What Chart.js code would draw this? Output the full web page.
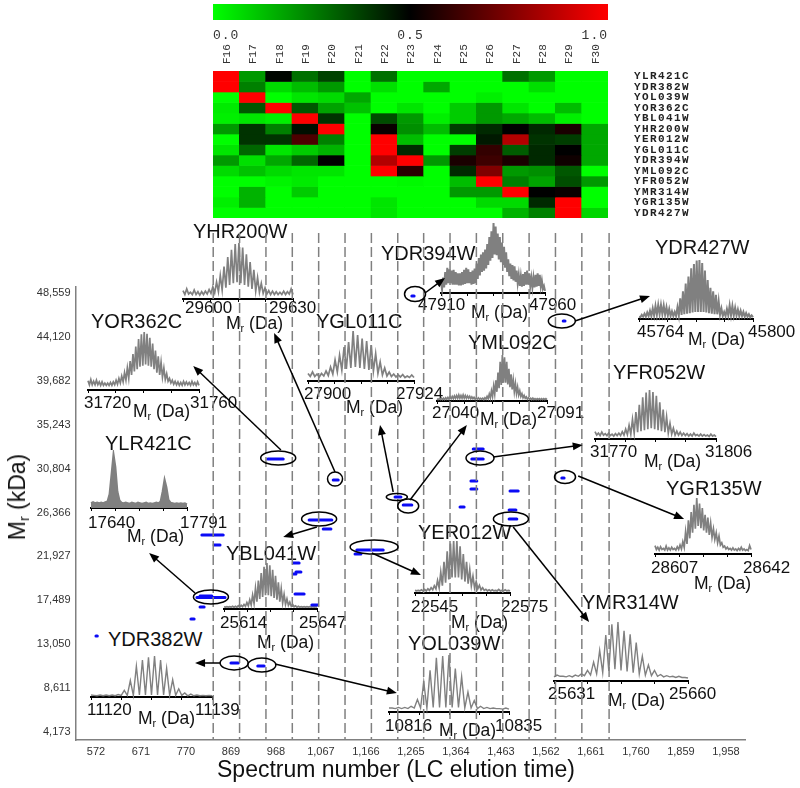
<!DOCTYPE html>
<html>
<head>
<meta charset="utf-8">
<title>LC elution map</title>
<script src="https://cdn.jsdelivr.net/npm/chart.js@4"></script>
<style>
    html, body { margin: 0; padding: 0; background: #fff; }
    #page { position: relative; width: 800px; height: 788px; overflow: hidden; }
    #page canvas { position: absolute; }
    .txt { position: absolute; white-space: nowrap; font-family: "Liberation Sans", Arial, sans-serif; color: #111; line-height: 24px; }
    .txt sub { font-size: 0.62em; line-height: 0; vertical-align: -0.3em; }
</style>
</head>
<body>
<div id="page"></div>
<script>
// ---- heat map ----
const fractions = ["F16", "F17", "F18", "F19", "F20", "F21", "F22", "F23", "F24", "F25", "F26", "F27", "F28", "F29", "F30"];
const proteins = ["YLR421C", "YDR382W", "YOL039W", "YOR362C", "YBL041W", "YHR200W", "YER012W", "YGL011C", "YDR394W", "YML092C", "YFR052W", "YMR314W", "YGR135W", "YDR427W"];
const heatYLR421C = [1, .2, .49, .28, .37, 0, .28, 0, 0, 0, 0, .28, .2, 0, 0];
const heatYDR382W = [1, .25, .07, .13, .2, 0, .06, 0, .17, 0, 0, 0, .06, 0, 0];
const heatYOL039W = [0, 1, 0, .05, .07, .17, 0, 0, 0, 0, .03, 0, 0, 0, 0];
const heatYOR362C = [.04, .33, 1, .33, .18, .12, 0, .05, 0, .1, .2, .05, 0, .13, 0];
const heatYBL041W = [.03, .05, .03, 1, .4, 0, .35, .2, .03, .1, .2, .17, .13, .03, 0];
const heatYHR200W = [.2, .4, .25, .47, 1, 0, .52, .22, .13, .38, .42, .5, .42, .55, .17];
const heatYER012W = [0, .4, .4, .65, .25, 0, 1, .13, 0, 0, .45, .85, .4, .38, .17];
const heatYGL011C = [.05, .3, .05, .1, .15, 0, 1, .42, 0, .38, .6, .32, .42, .5, .17];
const heatYDR394W = [.2, .06, .17, .3, .5, 0, .85, 1, .2, .55, .62, .55, .42, .53, .17];
const heatYML092C = [.07, .12, .07, .05, .05, 0, 1, .58, 0, .42, .75, .2, .22, .33, 0];
const heatYFR052W = [0, 0, .02, .04, 0, 0, 0, .01, 0, .13, 1, .25, .18, .35, .2];
const heatYMR314W = [0, .15, 0, .1, 0, 0, 0, 0, 0, .2, .2, 1, .5, .52, 0];
const heatYGR135W = [.03, .15, 0, 0, 0, 0, .05, 0, 0, 0, .07, .07, .42, 1, 0];
const heatYDR427W = [0, 0, 0, 0, 0, 0, .05, 0, 0, 0, 0, .15, .25, 1, .08];
const heatRows = [heatYLR421C, heatYDR382W, heatYOL039W, heatYOR362C, heatYBL041W, heatYHR200W, heatYER012W, heatYGL011C, heatYDR394W, heatYML092C, heatYFR052W, heatYMR314W, heatYGR135W, heatYDR427W];
const colorbarTicks = [0, 0.5, 1];

// ---- main map ----
const xTicks = [572, 671, 770, 869, 968, 1067, 1166, 1265, 1364, 1463, 1562, 1661, 1760, 1859, 1958];
const yTicks = [4173, 8611, 13050, 17489, 21927, 26366, 30804, 35243, 39682, 44120, 48559];
// limites de las fracciones, en numero de espectro
const fractionEdges = [830, 888, 946, 1004, 1062, 1120, 1178, 1236, 1293, 1351, 1409, 1467, 1525, 1583, 1641, 1701];
// cada feature azul: desde, hasta, masa
const featureStart = [572, 781, 801, 794, 801, 805, 832, 869, 928, 950, 1094, 1006, 1006, 1012, 1010, 1047, 1041, 1072, 1146, 1142, 1230, 1248, 1267, 1600, 1402, 1399, 1397, 1397, 1483, 1373, 1481, 1481, 1597];
const featureEnd = [575, 788, 810, 856, 827, 852, 845, 885, 942, 984, 1105, 1019, 1012, 1023, 1030, 1060, 1091, 1089, 1204, 1155, 1243, 1267, 1272, 1604, 1424, 1424, 1410, 1410, 1501, 1382, 1496, 1498, 1602];
const featureMass = [13878, 15597, 16810, 17771, 17922, 24089, 23078, 11149, 10845, 31773, 29650, 21259, 20147, 20349, 18125, 17012, 25606, 24696, 22573, 22169, 27931, 27122, 48252, 45725, 32784, 31773, 29549, 28740, 28538, 26920, 26617, 25707, 29852];
// elipses y flechas que senalan cada espectro
const ringSpectrum = [973, 1098, 1234, 1259, 1274, 1597, 1417, 1604, 1485, 1063, 1184, 825, 876, 937];
const ringMass = [31874, 29751, 27931, 27021, 48455, 45725, 31874, 29953, 25707, 25707, 22875, 17821, 11149, 10946];
const arrowFromSpectrum = [979, 1098, 1226, 1263, 1296, 1626, 1446, 1633, 1490, 1058, 1179, 790, 845, 966];
const arrowFromMass = [32683, 30459, 28437, 27628, 48556, 45725, 31975, 30054, 24898, 24898, 22270, 18226, 11149, 11048];
const arrowToSpectrum = [786, 964, 1197, 1388, 1340, 1791, 1643, 1866, 1657, 984, 1287, 689, 790, 1234];
const arrowToMass = [41175, 44512, 35210, 35210, 50072, 48252, 33188, 25707, 15294, 23887, 20045, 22270, 11149, 8116];

// ---- espectros (pico, valle, pico, valle...) en % del maximo ----
const peaksYHR200W = [15, 18, 12, 16, 13, 13, 14, 17, 22, 30, 42, 58, 75, 88, 98, 100, 92, 80, 66, 52, 38, 28, 20, 15, 14, 13, 12, 14, 13, 18];
const valleysYHR200W = [8, 9, 8, 8, 7, 8, 9, 10, 11, 13, 16, 20, 25, 28, 30, 28, 25, 22, 18, 14, 12, 10, 9, 8, 8, 8, 8, 8, 9, 8];
const peaksYOR362C = [16, 18, 15, 17, 14, 14, 12, 12, 13, 14, 17, 20, 24, 30, 38, 50, 62, 75, 88, 96, 100, 97, 90, 80, 68, 58, 48, 38, 28, 20, 17, 15, 14, 13, 15, 14, 13, 15, 13, 14];
const valleysYOR362C = [9, 9, 9, 9, 8, 8, 8, 8, 8, 9, 10, 12, 14, 17, 20, 26, 32, 36, 40, 42, 44, 42, 40, 36, 30, 26, 22, 18, 15, 12, 10, 9, 8, 8, 9, 9, 8, 9, 8, 8];
const peaksYGL011C = [15, 18, 14, 15, 20, 28, 42, 52, 68, 78, 100, 92, 85, 80, 72, 55, 38, 26, 18, 14, 12, 13, 10, 12];
const valleysYGL011C = [9, 9, 8, 10, 11, 14, 18, 22, 24, 26, 28, 26, 24, 22, 20, 15, 12, 10, 9, 8, 8, 7, 7, 7];
const peaksYDR394W = [15, 22, 30, 36, 34, 32, 33, 30, 28, 28, 30, 33, 36, 34, 30, 32, 35, 42, 50, 55, 58, 62, 70, 80, 88, 100, 95, 85, 80, 72, 66, 58, 48, 42, 40, 38, 32, 26, 24, 27, 30, 32, 28, 22, 22, 26, 28, 26, 18, 10];
const valleysYDR394W = [5, 8, 12, 14, 14, 12, 12, 12, 11, 11, 12, 13, 14, 14, 12, 13, 14, 20, 25, 30, 32, 35, 40, 46, 50, 55, 54, 48, 44, 40, 36, 30, 24, 20, 18, 16, 14, 10, 9, 10, 12, 12, 10, 8, 8, 9, 10, 9, 6, 3];
const peaksYDR427W = [4, 7, 9, 11, 14, 18, 22, 24, 24, 23, 20, 17, 13, 12, 20, 35, 47, 60, 72, 86, 93, 99, 100, 95, 82, 66, 53, 47, 41, 30, 18, 12, 17, 23, 22, 19, 16, 14, 12, 10, 8, 6];
const valleysYDR427W = [3, 4, 4, 5, 5, 6, 7, 8, 8, 7, 6, 5, 5, 5, 6, 7, 8, 9, 10, 11, 12, 12, 12, 12, 11, 10, 9, 8, 8, 7, 5, 5, 6, 6, 6, 6, 5, 5, 4, 4, 3, 3];
const peaksYML092C = [5, 5, 6, 6, 7, 8, 9, 10, 11, 12, 13, 12, 13, 12, 11, 10, 9, 8, 7, 7, 6, 6, 7, 10, 15, 22, 32, 45, 62, 85, 100, 95, 85, 70, 58, 46, 38, 30, 22, 16, 12, 9, 7, 6, 6, 5, 5, 5, 5, 5, 5];
const valleysYML092C = [3, 3, 3, 3, 4, 4, 5, 5, 6, 6, 6, 6, 6, 6, 6, 5, 5, 4, 4, 4, 4, 3, 4, 5, 7, 10, 15, 20, 28, 35, 40, 40, 36, 30, 25, 20, 16, 13, 10, 7, 6, 4, 4, 3, 3, 3, 3, 3, 3, 3, 3];
const peaksYFR052W = [15, 12, 14, 11, 12, 10, 11, 12, 15, 20, 28, 40, 55, 70, 85, 95, 100, 96, 88, 75, 60, 45, 32, 22, 16, 14, 12, 11, 10, 12, 9, 10, 9, 8, 10, 8];
const valleysYFR052W = [8, 7, 8, 7, 7, 6, 7, 7, 8, 9, 10, 12, 14, 16, 18, 20, 22, 20, 18, 16, 14, 12, 10, 8, 8, 7, 7, 6, 6, 7, 6, 6, 6, 5, 6, 5];
const peaksYGR135W = [15, 12, 13, 10, 14, 11, 12, 10, 13, 16, 22, 40, 60, 75, 88, 100, 90, 82, 70, 65, 55, 45, 38, 32, 20, 14, 12, 10, 11, 9, 10, 12, 9, 8, 15];
const valleysYGR135W = [8, 7, 8, 7, 7, 7, 8, 7, 8, 9, 12, 18, 28, 38, 45, 50, 46, 42, 38, 34, 30, 26, 20, 16, 12, 9, 8, 7, 7, 6, 7, 7, 6, 6, 8];
const peaksYBL041W = [5, 5, 5, 6, 6, 7, 8, 10, 14, 20, 30, 45, 62, 78, 92, 100, 95, 85, 72, 58, 44, 32, 22, 15, 10, 7, 6, 5, 5, 5, 5, 5, 5];
const valleysYBL041W = [4, 4, 4, 4, 4, 4, 5, 6, 7, 9, 12, 16, 22, 26, 30, 30, 28, 24, 20, 16, 13, 10, 8, 6, 5, 4, 4, 4, 4, 4, 4, 4, 4];
const peaksYER012W = [5, 5, 6, 7, 8, 10, 14, 24, 40, 60, 80, 95, 100, 100, 90, 75, 60, 45, 32, 22, 15, 10, 7, 6, 6, 5, 7, 5, 6, 5];
const valleysYER012W = [4, 4, 4, 4, 5, 6, 8, 10, 14, 20, 26, 30, 30, 30, 26, 22, 18, 14, 10, 8, 6, 5, 4, 4, 4, 4, 4, 4, 4, 4];
// estos ya van leidos punto a punto
const traceYLR421C = [9, 11, 9, 10, 9, 10, 9, 11, 12, 25, 62, 100, 75, 30, 14, 10, 9, 10, 9, 8, 10, 9, 8, 10, 9, 8, 9, 10, 8, 9, 8, 9, 10, 9, 12, 30, 53, 38, 15, 10, 9, 8, 9, 8, 9, 8, 9, 7];
const traceYOL039W = [7, 7, 6, 8, 6, 8, 6, 10, 7, 22, 7, 53, 7, 73, 8, 95, 8, 98, 8, 100, 8, 76, 8, 62, 7, 35, 7, 20, 6, 10, 6, 8, 6, 7, 6, 6, 5, 7, 5];
const traceYDR382W = [5, 4, 3, 5, 3, 5, 3, 5, 3, 6, 4, 16, 4, 40, 4, 75, 5, 90, 5, 97, 5, 100, 5, 90, 5, 70, 4, 42, 4, 20, 4, 10, 3, 7, 3, 5, 3, 4, 3, 4, 3];
const traceYMR314W = [7, 10, 8, 8, 7, 9, 7, 10, 8, 12, 9, 18, 10, 32, 12, 52, 14, 78, 17, 96, 20, 100, 18, 85, 16, 79, 14, 65, 12, 42, 10, 27, 9, 18, 8, 11, 7, 9, 7, 8, 6, 8, 6, 6, 5];

function merge(peaks, valleys) {
    return peaks.flatMap((p, i) => [p, valleys[i]]);
}

// donde va cada recuadro en la pagina
const insets = [
    { name: "YHR200W", y: merge(peaksYHR200W, valleysYHR200W), from: 29600, to: 29630, box: [183, 293, 243, 299], title: [193, 231], low: 185, high: 269, massY: 308, mr: [226, 323] },
    { name: "YOR362C", y: merge(peaksYOR362C, valleysYOR362C), from: 31720, to: 31760, box: [88, 199, 332, 390], title: [91, 321], low: 84, high: 190, massY: 403, mr: [133, 411] },
    { name: "YGL011C", y: merge(peaksYGL011C, valleysYGL011C), from: 27900, to: 27924, box: [308, 414, 331, 381], title: [316, 321], low: 304, high: 396, massY: 394, mr: [346, 407] },
    { name: "YDR394W", y: merge(peaksYDR394W, valleysYDR394W), from: 47910, to: 47960, box: [441, 545, 223, 293], title: [381, 253], low: 418, high: 529, massY: 305, mr: [471, 312], width: 2 },
    { name: "YDR427W", y: merge(peaksYDR427W, valleysYDR427W), from: 45764, to: 45800, box: [639, 753, 260, 319], title: [655, 247], low: 637, high: 748, massY: 332, mr: [688, 339], width: 2 },
    { name: "YML092C", y: merge(peaksYML092C, valleysYML092C), from: 27040, to: 27091, box: [437, 547, 355, 401], title: [468, 342], low: 432, high: 537, massY: 413, mr: [480, 419] },
    { name: "YFR052W", y: merge(peaksYFR052W, valleysYFR052W), from: 31770, to: 31806, box: [595, 716, 390, 439], title: [613, 372], low: 590, high: 705, massY: 452, mr: [644, 461] },
    { name: "YLR421C", y: traceYLR421C, from: 17640, to: 17791, box: [91, 187, 453, 508], title: [105, 443], low: 88, high: 180, massY: 523, mr: [127, 536], solid: true },
    { name: "YGR135W", y: merge(peaksYGR135W, valleysYGR135W), from: 28607, to: 28642, box: [655, 751, 498, 554], title: [666, 488], low: 651, high: 743, massY: 568, mr: [694, 583] },
    { name: "YBL041W", y: merge(peaksYBL041W, valleysYBL041W), from: 25614, to: 25647, box: [224, 317, 563, 609], title: [226, 553], low: 220, high: 299, massY: 623, mr: [257, 642] },
    { name: "YER012W", y: merge(peaksYER012W, valleysYER012W), from: 22545, to: 22575, box: [415, 510, 541, 593], title: [418, 532], low: 411, high: 501, massY: 607, mr: [451, 622] },
    { name: "YOL039W", y: traceYOL039W, from: 10816, to: 10835, box: [389, 509, 655, 712], title: [408, 643], low: 385, high: 495, massY: 726, mr: [439, 730], width: 1.4 },
    { name: "YMR314W", y: traceYMR314W, from: 25631, to: 25660, box: [554, 688, 622, 681], title: [582, 602], low: 548, high: 669, massY: 694, mr: [608, 700], width: 1.4 },
    { name: "YDR382W", y: traceYDR382W, from: 11120, to: 11139, box: [91, 212, 656, 697], title: [108, 639], low: 87, high: 195, massY: 710, mr: [138, 718], width: 1.4 }
];
const ringRadii = [[17.5, 7], [7.5, 7], [10.5, 3.5], [10.5, 7], [10.5, 7.5], [13.5, 7], [14, 7], [10.5, 6.5], [17.5, 7], [17.5, 7], [24, 7], [17.5, 7], [14, 7], [14, 7]];

const page = document.getElementById("page");

function addCanvas(left, top, width, height) {
    const canvas = document.createElement("canvas");
    canvas.width = width;
    canvas.height = height;
    canvas.style.left = left + "px";
    canvas.style.top = top + "px";
    page.appendChild(canvas);
    return canvas;
}

function addText(html, x, y, size) {
    const div = document.createElement("div");
    div.className = "txt";
    div.innerHTML = html;
    div.style.left = x + "px";
    div.style.top = (y - 12) + "px";
    div.style.fontSize = size + "px";
    page.appendChild(div);
    return div;
}

// 0 verde, 0.5 negro, 1 rojo
function heatColor(v) {
    if (v <= 0.5) return `rgb(0, ${Math.round(255 * (1 - v * 2))}, 0)`;
    return `rgb(${Math.round(255 * (v * 2 - 1))}, 0, 0)`;
}

// el texto de la referencia va mas separado de lo normal
function spaceLabels(scale, spacing) {
    const drawLabels = scale.drawLabels;
    scale.drawLabels = function (area) {
        scale.ctx.letterSpacing = spacing;
        drawLabels.call(scale, area);
        scale.ctx.letterSpacing = "0px";
    };
}

function createColorbar() {
    new Chart(addCanvas(0, 0, 800, 46), {
        type: "bar",
        data: {
            labels: [""],
            datasets: [{
                data: [[colorbarTicks[0], colorbarTicks[2]]],
                barPercentage: 1,
                categoryPercentage: 1,
                backgroundColor(context) {
                    const { ctx, chartArea } = context.chart;
                    if (!chartArea) return "#000";
                    const gradient = ctx.createLinearGradient(chartArea.left, 0, chartArea.right, 0);
                    gradient.addColorStop(0, "#00ff00");
                    gradient.addColorStop(0.5, "#000000");
                    gradient.addColorStop(1, "#ff0000");
                    return gradient;
                }
            }]
        },
        options: {
            indexAxis: "y",
            responsive: false,
            animation: false,
            layout: { padding: { left: 213, right: 192, top: 4, bottom: 0 } },
            plugins: { legend: { display: false }, tooltip: { enabled: false } },
            scales: {
                y: { display: false },
                x: {
                    min: 0,
                    max: 1,
                    grid: { display: false, drawTicks: false },
                    border: { display: false },
                    afterFit(scale) { scale.height = 26; spaceLabels(scale, "1px"); },
                    afterBuildTicks(scale) { scale.ticks = colorbarTicks.map(value => ({ value })); },
                    ticks: {
                        align: "inner",
                        padding: 8,
                        color: "#333",
                        font: { family: "Liberation Mono", size: 13 },
                        callback: value => value.toFixed(1)
                    }
                }
            }
        }
    });
}

function createHeatmap() {
    new Chart(addCanvas(0, 0, 800, 220), {
        type: "bar",
        data: {
            labels: fractions,
            datasets: heatRows.map((row, r) => ({
                label: proteins[r],
                data: row.map(() => 1),
                backgroundColor: row.map(heatColor),
                borderWidth: 0,
                barPercentage: 1,
                categoryPercentage: 1
            }))
        },
        options: {
            responsive: false,
            animation: false,
            layout: { padding: { left: 213, top: 0, bottom: 2, right: 0 } },
            plugins: { legend: { display: false }, tooltip: { enabled: false } },
            scales: {
                x: {
                    position: "top",
                    stacked: true,
                    grid: { display: false, drawTicks: false },
                    border: { display: false },
                    afterFit(scale) { scale.height = 71; },
                    ticks: {
                        minRotation: 90,
                        maxRotation: 90,
                        padding: 7,
                        // arriba y girada, chart.js corre la etiqueta a la izquierda
                        labelOffset: 14,
                        autoSkip: false,
                        color: "#333",
                        font: { family: "Liberation Mono", size: 11 }
                    }
                },
                y: {
                    position: "right",
                    stacked: true,
                    reverse: true,
                    min: 0,
                    max: proteins.length,
                    grid: { display: false, drawTicks: false },
                    border: { display: false },
                    // la separacion de las etiquetas no debe comerse el alto del mapa
                    afterFit(scale) {
                        scale.width = 192;
                        scale.paddingTop = 0;
                        scale.paddingBottom = 0;
                        spaceLabels(scale, "1.4px");
                    },
                    afterBuildTicks(scale) { scale.ticks = proteins.map((name, i) => ({ value: i + 0.5 })); },
                    ticks: {
                        padding: 26,
                        autoSkip: false,
                        color: "#222",
                        font: { family: "Liberation Mono", size: 11, weight: "bold" },
                        callback: value => proteins[Math.floor(value)]
                    }
                }
            }
        }
    });
}

function createInset(inset) {
    const [x1, x2, top, axisY] = inset.box;
    const step = (inset.to - inset.from) / (inset.y.length - 1);
    new Chart(addCanvas(x1 - 3, top - 3, x2 - x1 + 6, axisY - top + 9), {
        type: "line",
        data: {
            datasets: [{
                data: inset.y.map((v, i) => ({ x: inset.from + i * step, y: v })),
                borderColor: "#808080",
                backgroundColor: "#808080",
                borderWidth: inset.width || 1.7,
                pointRadius: 0,
                fill: inset.solid ? "origin" : false,
                clip: false
            }]
        },
        options: {
            responsive: false,
            animation: false,
            layout: { padding: { left: 3, right: 3, top: 3, bottom: 0 } },
            plugins: { legend: { display: false }, tooltip: { enabled: false } },
            scales: {
                y: { display: false, min: 0, max: 100 },
                x: {
                    type: "linear",
                    min: inset.from,
                    max: inset.to,
                    afterFit(scale) { scale.height = 6; },
                    grid: { drawOnChartArea: false, drawTicks: true, tickLength: 3, color: "#000", lineWidth: 1 },
                    border: { color: "#000", width: 2 },
                    ticks: { count: 5, display: false }
                }
            }
        }
    });
    addText(inset.name, inset.title[0], inset.title[1], 20);
    addText(String(inset.from), inset.low, inset.massY, 17);
    addText(String(inset.to), inset.high, inset.massY, 17);
    addText("M<sub>r</sub> (Da)", inset.mr[0], inset.mr[1], 17.5);
}

const calloutPlugin = {
    id: "callouts",
    afterDatasetsDraw(chart) {
        const { ctx, scales: { x, y } } = chart;
        ctx.save();
        ctx.strokeStyle = "#000";
        ctx.fillStyle = "#000";
        ctx.lineWidth = 1.5;
        ringSpectrum.forEach((s, i) => {
            ctx.beginPath();
            ctx.ellipse(x.getPixelForValue(s), y.getPixelForValue(ringMass[i]), ringRadii[i][0], ringRadii[i][1], 0, 0, Math.PI * 2);
            ctx.stroke();
        });
        arrowFromSpectrum.forEach((s, i) => {
            const x1 = x.getPixelForValue(s);
            const y1 = y.getPixelForValue(arrowFromMass[i]);
            const x2 = x.getPixelForValue(arrowToSpectrum[i]);
            const y2 = y.getPixelForValue(arrowToMass[i]);
            const angle = Math.atan2(y2 - y1, x2 - x1);
            ctx.beginPath();
            ctx.moveTo(x1, y1);
            ctx.lineTo(x2 - 8 * Math.cos(angle), y2 - 8 * Math.sin(angle));
            ctx.stroke();
            ctx.beginPath();
            ctx.moveTo(x2, y2);
            ctx.lineTo(x2 - 10 * Math.cos(angle) + 4 * Math.sin(angle), y2 - 10 * Math.sin(angle) - 4 * Math.cos(angle));
            ctx.lineTo(x2 - 10 * Math.cos(angle) - 4 * Math.sin(angle), y2 - 10 * Math.sin(angle) + 4 * Math.cos(angle));
            ctx.closePath();
            ctx.fill();
        });
        ctx.restore();
    }
};

function createMain() {
    const edgePoints = [];
    fractionEdges.forEach(edge => {
        edgePoints.push({ x: edge, y: 54622 }, { x: edge, y: 3364 }, { x: edge, y: null });
    });
    const featurePoints = [];
    featureStart.forEach((start, i) => {
        featurePoints.push({ x: start, y: featureMass[i] }, { x: featureEnd[i], y: featureMass[i] }, { x: featureEnd[i], y: null });
    });

    new Chart(addCanvas(0, 0, 800, 788), {
        type: "line",
        data: {
            datasets: [
                {
                    data: edgePoints,
                    borderColor: "#808080",
                    borderWidth: 1.5,
                    borderDash: [10, 4],
                    pointRadius: 0,
                    spanGaps: false,
                    clip: false
                },
                {
                    data: featurePoints,
                    borderColor: "#0b0bf5",
                    borderWidth: 3,
                    borderCapStyle: "round",
                    pointRadius: 0,
                    spanGaps: false,
                    clip: false
                }
            ]
        },
        options: {
            responsive: false,
            animation: false,
            layout: { padding: { top: 287, right: 55, left: 0, bottom: 0 } },
            plugins: { legend: { display: false }, tooltip: { enabled: false } },
            scales: {
                x: {
                    type: "linear",
                    min: 527,
                    max: 2000,
                    grid: { display: false, drawTicks: false },
                    border: { color: "#808080", width: 1.5 },
                    afterFit(scale) { scale.height = 48; },
                    afterBuildTicks(scale) { scale.ticks = xTicks.map(value => ({ value })); },
                    ticks: {
                        padding: 5,
                        maxRotation: 0,
                        autoSkip: false,
                        color: "#333",
                        font: { family: "Liberation Sans", size: 11 },
                        callback: value => value.toLocaleString("en-US")
                    }
                },
                y: {
                    min: 3364,
                    max: 49165,
                    grid: { display: false, drawTicks: false },
                    border: { color: "#808080", width: 1.5 },
                    afterFit(scale) { scale.width = 75.5; },
                    afterBuildTicks(scale) { scale.ticks = yTicks.map(value => ({ value })); },
                    ticks: {
                        padding: 5,
                        autoSkip: false,
                        color: "#333",
                        font: { family: "Liberation Sans", size: 11 },
                        callback: value => value.toLocaleString("en-US")
                    }
                }
            }
        },
        plugins: [calloutPlugin]
    });

    addText("Spectrum number (LC elution time)", 217, 769, 23);
    const yTitle = addText("M<sub>r</sub> (kDa)", 17, 497, 23);
    yTitle.style.transform = "translate(-50%, 0) rotate(-90deg)";
}

createColorbar();
createHeatmap();
insets.forEach(createInset);
createMain();
</script>
</body>
</html>
